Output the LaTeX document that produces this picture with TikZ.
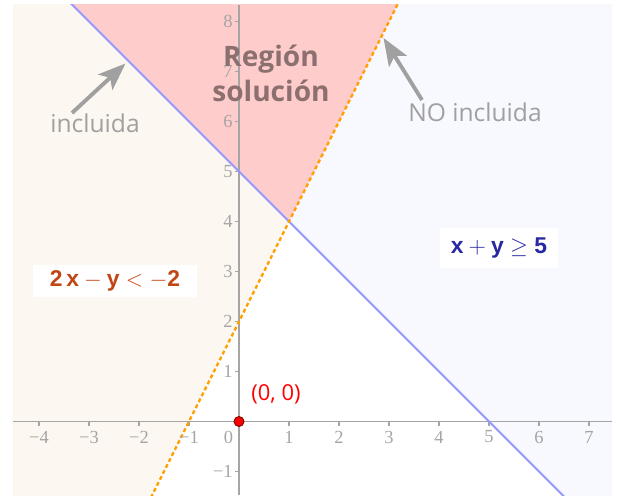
\RequirePackage{fix-cm}
\documentclass[tikz,border=0pt]{standalone}
\usepackage{fontspec}
\setmainfont{Liberation Serif}
\setsansfont{Open Sans}
\newfontfamily\arialfont{Liberation Sans}
\usepackage{xcolor}
\usetikzlibrary{arrows.meta}
\definecolor{peachfill}{RGB}{252,247,240}
\definecolor{lavenderfill}{RGB}{248,248,255}
\definecolor{pinkfill}{RGB}{255,204,204}
\definecolor{boundblue}{RGB}{150,150,255}
\definecolor{boundorange}{RGB}{255,160,0}
\definecolor{axisgray}{RGB}{165,165,165}
\definecolor{notegray}{RGB}{160,160,160}
\definecolor{regionbrown}{RGB}{140,112,112}
\definecolor{ineqorange}{RGB}{192,70,20}
\definecolor{ineqblue}{RGB}{40,40,160}

\begin{document}
\begin{tikzpicture}[
    axis/.style={draw=axisgray, line width=0.6pt},
    ticklabel/.style={text=axisgray, font=\fontsize{10.5}{12}\selectfont, inner sep=0pt},
    note/.style={text=notegray, font=\sffamily\fontsize{14}{16}\selectfont, inner sep=1pt},
    pointer/.style={-{Stealth[length=5.5mm, width=4.2mm, inset=1.3mm]}, line width=2.2pt, draw=notegray},
    ineqbox/.style={fill=white, inner sep=0pt, font=\arialfont\fontsize{13}{15}\selectfont}
]
    \useasboundingbox (-4.78,-1.47) rectangle (7.58,8.43);

    % Half-plane shading, clipped to the plot window
    \begin{scope}
        \clip (-4.52,-1.47) rectangle (7.46,8.33);
        \fill[peachfill] (-6,-2) -- (-2,-2) -- (1,4) -- (-4,9) -- (-6,9) -- cycle;
        \fill[lavenderfill] (1,4) -- (3.5,9) -- (8,9) -- (8,-2) -- (7,-2) -- cycle;
        \fill[pinkfill] (-4,9) -- (1,4) -- (3.5,9) -- cycle;

        % Axes and ticks
        \draw[axis] (-4.52,0) -- (7.46,0);
        \draw[axis] (0,-1.47) -- (0,8.33);
        \foreach \x in {-4,-3,-2,-1,1,2,3,4,5,6,7}
            \draw[axis] (\x,0.02) -- (\x,-0.08);
        \foreach \y in {-1,1,2,3,4,5,6,7,8}
            \draw[axis] (0.02,\y) -- (-0.08,\y);

        % Boundary lines
        \draw[boundblue, line width=1.1pt] (-4,9) -- (7,-2);
        \draw[boundorange, line width=1.3pt, dash pattern=on 2.2pt off 1.6pt] (-2,-2) -- (3.5,9);
    \end{scope}

    % Tick labels
    \foreach \x/\lab/\nm in {-4/−4/m4,-3/−3/m3,-2/−2/m2,-1/−1/m1,1/1/p1,2/2/p2,3/3/p3,4/4/p4,5/5/p5,6/6/p6,7/7/p7}
        \node[ticklabel] (xl\nm) at (\x,-0.31) {\lab};
    \foreach \y/\lab/\nm in {-1/−1/m1,1/1/p1,2/2/p2,3/3/p3,4/4/p4,5/5/p5,6/6/p6,7/7/p7,8/8/p8}
        \node[ticklabel, anchor=east] (yl\nm) at (-0.12,\y) {\lab};
    \node[ticklabel] (zero) at (-0.21,-0.31) {0};

    % Labels
    \node[font=\sffamily\bfseries\fontsize{16}{20}\selectfont, text=regionbrown, align=center] (reg) at (0.64,6.97) {Región\\solución};
    \node[note] (incl) at (-2.88,5.97) {incluida};
    \node[note] (noincl) at (4.72,6.19) {NO incluida};
    \node[ineqbox, text=ineqorange, minimum width=3.28cm, minimum height=0.64cm] (ineqA) at (-2.48,2.81)
        {$\textbf{2}\,\textbf{x}-\textbf{y}<-\textbf{2}$};
    \node[ineqbox, text=ineqblue, minimum width=2.36cm, minimum height=0.8cm] (ineqB) at (5.2,3.47)
        {$\textbf{x}+\textbf{y}\geq\textbf{5}$};

    % Origin
    \node[circle, fill=red, draw=red!50!black, line width=0.5pt, inner sep=0pt, minimum size=0.2cm] (orig) at (0,0) {};
    \node[text=red, font=\sffamily\fontsize{12.5}{14}\selectfont] (origlab) at (0.74,0.55) {(0, 0)};

    % Pointers
    \coordinate (inclTail) at (-3.34,6.17);
    \coordinate (inclTip) at (-2.27,7.16);
    \coordinate (noinclTail) at (3.66,6.43);
    \coordinate (noinclTip) at (2.89,7.67);
    \draw[pointer] (inclTail) -- (inclTip);
    \draw[pointer] (noinclTail) -- (noinclTip);
\end{tikzpicture}
\end{document}
